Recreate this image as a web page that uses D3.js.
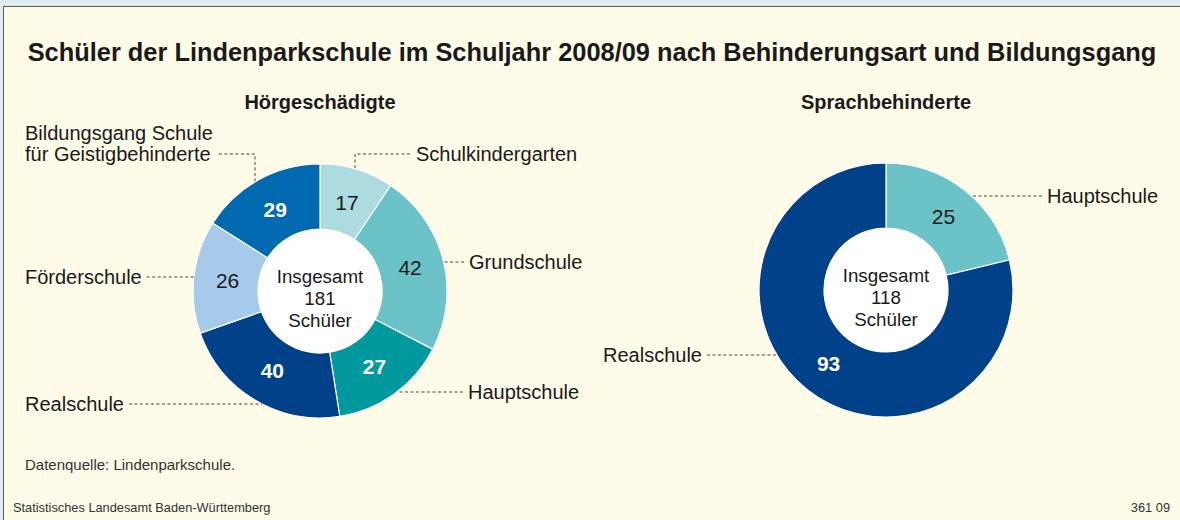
<!DOCTYPE html>
<html lang="de">
<head>
<meta charset="UTF-8">
<title>Schüler der Lindenparkschule 2008/09</title>
<script src="https://d3js.org/d3.v7.min.js"></script>
<style>
  body { margin: 0; background: #deedef; }
  svg text { font-family: "Liberation Sans", Arial, sans-serif; fill: #1a1a1a; }
</style>
</head>
<body>
<svg id="chart" width="1180" height="520"></svg>
<script>
// data: Hörgeschädigte (clockwise from 12 o'clock)
var hoerCategories = ["Schulkindergarten", "Grundschule", "Hauptschule", "Realschule", "Förderschule", "Bildungsgang Schule für Geistigbehinderte"];
var hoerValues = [17, 42, 27, 40, 26, 29];
var hoerColors = ["#acdbe0", "#6bc3c7", "#00999e", "#00418a", "#a5caea", "#0069b0"];
var hoerBold = [false, false, true, true, false, true];

// data: Sprachbehinderte
var sprachCategories = ["Hauptschule", "Realschule"];
var sprachValues = [25, 93];
var sprachColors = ["#6bc3c7", "#00418a"];
var sprachBold = [false, true];

var title = "Schüler der Lindenparkschule im Schuljahr 2008/09 nach Behinderungsart und Bildungsgang";

var svg = d3.select("#chart"),
    width = +svg.attr("width"),
    height = +svg.attr("height");

// frame
svg.append("rect").attr("width", width).attr("height", height).attr("fill", "#deedef");
svg.append("rect")
    .attr("x", 3.5).attr("y", 6.5)
    .attr("width", width + 10).attr("height", height + 10)
    .attr("fill", "#fffbe9")
    .attr("stroke", "#5a5a5a").attr("stroke-width", 1);

svg.append("text")
    .attr("x", 592).attr("y", 61)
    .attr("text-anchor", "middle")
    .style("font-size", "25.4px").style("font-weight", "bold")
    .text(title);

var R = 127, r = 62;
var arc = d3.arc().innerRadius(r).outerRadius(R);
var pie = d3.pie().sort(null).value(function (d) { return d; });

// label layout: text position relative to center, optional elbow x (relative)
var hoerLabels = [
    { lines: ["Schulkindergarten"], x: 96, y: -137, elbow: 35 },
    { lines: ["Grundschule"], x: 149, y: -29 },
    { lines: ["Hauptschule"], x: 148, y: 101 },
    { lines: ["Realschule"], x: -295, y: 113 },
    { lines: ["Förderschule"], x: -295, y: -14 },
    { lines: ["Bildungsgang Schule", "für Geistigbehinderte"], x: -295, y: -137, elbow: -65 }
];
var sprachLabels = [
    { lines: ["Hauptschule"], x: 161, y: -94 },
    { lines: ["Realschule"], x: -283, y: 65 }
];

function drawDonut(cx, cy, name, values, colors, bold, labels) {
    var g = svg.append("g").attr("transform", "translate(" + cx + "," + cy + ")");
    var arcs = pie(values);

    svg.append("text")
        .attr("x", cx).attr("y", 109)
        .attr("text-anchor", "middle")
        .style("font-size", "20px").style("font-weight", "bold")
        .text(name);

    g.selectAll("path.slice")
        .data(arcs)
        .enter()
        .append("path")
        .attr("class", "slice")
        .attr("d", arc)
        .attr("fill", function (d, i) { return colors[i]; })
        .attr("stroke", "#ffffff")
        .attr("stroke-width", 1.2);

    g.append("circle").attr("r", r).attr("fill", "#ffffff");

    var labelArc = d3.arc().innerRadius(90).outerRadius(96);
    g.selectAll("text.val")
        .data(arcs)
        .enter()
        .append("text")
        .attr("class", "val")
        .attr("transform", function (d) { return "translate(" + labelArc.centroid(d) + ")"; })
        .attr("text-anchor", "middle")
        .attr("dy", "0.36em")
        .style("font-size", "21px")
        .style("font-weight", function (d, i) { return bold[i] ? "bold" : "normal"; })
        .style("fill", function (d, i) { return bold[i] ? "#ffffff" : "#1a1a1a"; })
        .text(function (d) { return d.value; });

    // centre: total
    var total = d3.sum(values);
    ["Insgesamt", total, "Schüler"].forEach(function (t, i) {
        g.append("text")
            .attr("text-anchor", "middle")
            .attr("x", 0).attr("y", -14.5 + i * 21.7)
            .attr("dy", "0.36em")
            .style("font-size", "18.8px")
            .text(t);
    });

    // leader lines + category labels
    labels.forEach(function (l) {
        var pts;
        var lineH = 21;
        var t = g.append("text")
            .attr("text-anchor", "start")
            .style("font-size", "20px");
        l.lines.forEach(function (s, i) {
            t.append("tspan").attr("x", l.x)
                .attr("y", l.y - (l.lines.length - 1) * lineH + i * lineH)
                .attr("dy", "0.36em").text(s);
        });
        var bb = t.node().getBBox();
        var textRight = bb.x + bb.width;
        if (l.elbow !== undefined) {
            var ey = -Math.sqrt(R * R - l.elbow * l.elbow);
            if (l.x > 0) {
                pts = [[l.x - 6, l.y], [l.elbow, l.y], [l.elbow, ey]];
            } else {
                pts = [[textRight + 6, l.y], [l.elbow, l.y], [l.elbow, ey]];
            }
        } else {
            var ex = Math.sqrt(R * R - l.y * l.y);
            if (l.x > 0) {
                pts = [[l.x - 5, l.y], [ex, l.y]];
            } else {
                pts = [[textRight + 5, l.y], [-ex, l.y]];
            }
        }
        g.append("path")
            .attr("d", d3.line()(pts))
            .attr("fill", "none")
            .attr("stroke", "#444")
            .attr("stroke-width", 1)
            .attr("stroke-dasharray", "3,2.5");
    });
}

drawDonut(320, 291, "Hörgeschädigte", hoerValues, hoerColors, hoerBold, hoerLabels);
drawDonut(886, 290, "Sprachbehinderte", sprachValues, sprachColors, sprachBold, sprachLabels);

svg.append("text")
    .attr("x", 25).attr("y", 470)
    .style("font-size", "15px").style("fill", "#333")
    .text("Datenquelle: Lindenparkschule.");
svg.append("text")
    .attr("x", 13).attr("y", 512)
    .style("font-size", "12.8px").style("fill", "#333")
    .text("Statistisches Landesamt Baden-Württemberg");
svg.append("text")
    .attr("x", 1170).attr("y", 512)
    .attr("text-anchor", "end")
    .style("font-size", "12.8px").style("fill", "#333")
    .text("361 09");
</script>
</body>
</html>
